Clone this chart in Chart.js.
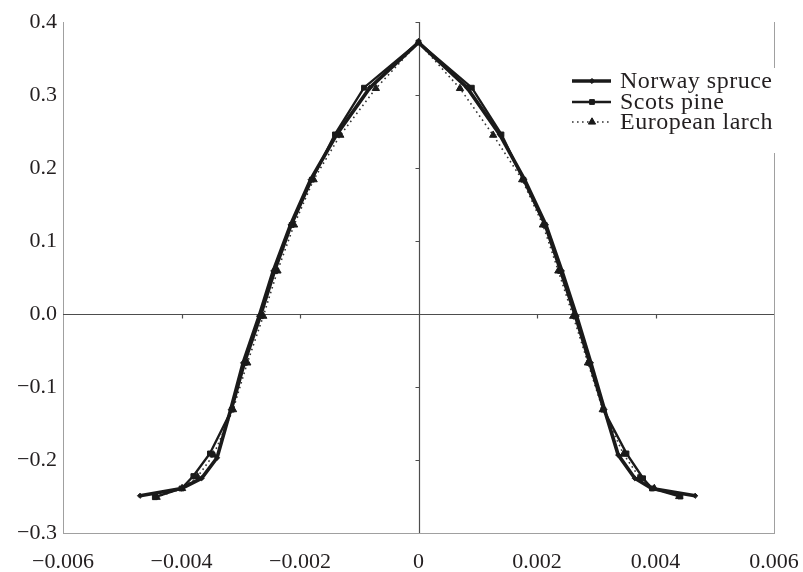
<!DOCTYPE html>
<html>
<head>
<meta charset="utf-8">
<style>
  html, body { margin: 0; padding: 0; background: #ffffff; }
  #wrap { width: 803px; height: 572px; }
</style>
<script src="https://cdn.jsdelivr.net/npm/chart.js@4/dist/chart.umd.min.js"></script>
</head>
<body>
<div id="wrap"><canvas id="c" width="803" height="572"></canvas></div>
<script>
// Profiles, left branch from the bottom up to the apex, then the right branch down.
const xSpruce = [-0.00470, -0.00400, -0.00366, -0.00340, -0.00317, -0.00296, -0.00269, -0.00245, -0.00216, -0.00182, -0.00138, -0.00082, 0,
                  0.00082, 0.00137, 0.00179, 0.00215, 0.00242, 0.00267, 0.00291, 0.00314, 0.00337, 0.00365, 0.00394, 0.00467];
const ySpruce = [-0.249, -0.239, -0.225, -0.197, -0.131, -0.067, -0.003, 0.059, 0.122, 0.184, 0.246, 0.310, 0.372,
                  0.310, 0.246, 0.184, 0.122, 0.059, -0.003, -0.067, -0.131, -0.193, -0.225, -0.239, -0.249];

const xPine = [-0.00445, -0.00400, -0.00380, -0.00352, -0.00315, -0.00293, -0.00266, -0.00242, -0.00214, -0.00180, -0.00141, -0.00092, 0,
                0.00090, 0.00140, 0.00177, 0.00213, 0.00239, 0.00264, 0.00288, 0.00312, 0.00351, 0.00379, 0.00394, 0.00442];
const yPine = [-0.251, -0.239, -0.222, -0.191, -0.131, -0.067, -0.003, 0.059, 0.122, 0.184, 0.246, 0.310, 0.372,
                0.310, 0.246, 0.184, 0.122, 0.059, -0.003, -0.067, -0.131, -0.191, -0.225, -0.239, -0.250];

const xLarch = [-0.00442, -0.00399, -0.00373, -0.00346, -0.00313, -0.00289, -0.00262, -0.00238, -0.00210, -0.00177, -0.00132, -0.00072, 0,
                 0.00070, 0.00126, 0.00175, 0.00210, 0.00236, 0.00261, 0.00286, 0.00311, 0.00346, 0.00373, 0.00398, 0.00440];
const yLarch = [-0.251, -0.239, -0.223, -0.193, -0.131, -0.067, -0.003, 0.059, 0.122, 0.184, 0.245, 0.309, 0.372,
                 0.309, 0.245, 0.184, 0.122, 0.059, -0.003, -0.067, -0.131, -0.192, -0.224, -0.239, -0.250];

const seriesNames = ['Norway spruce', 'Scots pine', 'European larch'];

const xTicks = [-0.006, -0.004, -0.002, 0, 0.002, 0.004, 0.006];
const yTicks = [-0.3, -0.2, -0.1, 0.0, 0.1, 0.2, 0.3, 0.4];

const FONT = "'Liberation Serif', 'Times New Roman', serif";
const INK = '#1a1a1a';

function pairs(xs, ys) { return xs.map((x, i) => ({ x: x, y: ys[i] })); }
function minus(s) { return s.replace('-', '\u2212'); }

// Zero axes through the middle of the plot, with short tick marks
const zeroAxes = {
  id: 'zeroAxes',
  beforeDatasetsDraw(chart) {
    const { ctx, chartArea: a, scales: { x, y } } = chart;
    const x0 = Math.round(x.getPixelForValue(0)) + 0.5;
    const y0 = Math.round(y.getPixelForValue(0)) + 0.5;
    ctx.save();
    ctx.strokeStyle = '#4d4d4d';
    ctx.lineWidth = 1.2;
    ctx.beginPath();
    ctx.moveTo(a.left, y0); ctx.lineTo(a.right, y0);
    ctx.moveTo(x0, a.top); ctx.lineTo(x0, a.bottom);
    xTicks.forEach(v => {
      if (v === 0 || v === xTicks[0] || v === xTicks[xTicks.length - 1]) return;
      const px = Math.round(x.getPixelForValue(v)) + 0.5;
      ctx.moveTo(px, y0); ctx.lineTo(px, y0 + 4);
    });
    yTicks.forEach(v => {
      if (v === 0 || v === yTicks[0]) return;
      const py = Math.round(y.getPixelForValue(v)) + 0.5;
      ctx.moveTo(x0, py); ctx.lineTo(x0 - 4, py);
    });
    ctx.stroke();
    // right side of the frame
    ctx.strokeStyle = '#a0a0a0';
    ctx.lineWidth = 1;
    ctx.beginPath();
    ctx.moveTo(Math.round(a.right) + 0.5, a.top);
    ctx.lineTo(Math.round(a.right) + 0.5, a.bottom);
    ctx.stroke();
    ctx.restore();
  }
};

// Legend box in the upper right corner
const cornerLegend = {
  id: 'cornerLegend',
  afterDraw(chart) {
    const ctx = chart.ctx;
    ctx.save();
    ctx.fillStyle = '#ffffff';
    ctx.fillRect(562, 68, 241, 85);
    const rows = [81, 102, 122];
    chart.data.datasets.forEach((ds, i) => {
      const yy = rows[i];
      ctx.strokeStyle = ds.borderColor;
      ctx.lineWidth = ds.borderWidth;
      ctx.setLineDash(ds.borderDash || []);
      ctx.beginPath();
      ctx.moveTo(572, yy); ctx.lineTo(611, yy);
      ctx.stroke();
      ctx.setLineDash([]);
      ctx.fillStyle = ds.pointBackgroundColor;
      ctx.strokeStyle = ds.pointBorderColor;
      ctx.lineWidth = 1;
      Chart.helpers.drawPoint(ctx, {
        pointStyle: ds.pointStyle, radius: ds.pointRadius, rotation: 0,
        borderWidth: 1
      }, 592, yy);
      ctx.fillStyle = '#231f20';
      ctx.font = '24px ' + FONT;
      if ('letterSpacing' in ctx) ctx.letterSpacing = '0.5px';
      ctx.textBaseline = 'alphabetic';
      ctx.textAlign = 'left';
      ctx.fillText(seriesNames[i], 620, yy + 7);
    });
    ctx.restore();
  }
};

const ctx = document.getElementById('c').getContext('2d');
new Chart(ctx, {
  type: 'scatter',
  data: {
    datasets: [
      {
        label: seriesNames[0],
        data: pairs(xSpruce, ySpruce),
        showLine: true,
        borderColor: INK, backgroundColor: INK,
        borderWidth: 3.6,
        pointStyle: 'rectRot', pointRadius: 2.6,
        pointBackgroundColor: INK, pointBorderColor: INK, pointBorderWidth: 1
      },
      {
        label: seriesNames[1],
        data: pairs(xPine, yPine),
        showLine: true,
        borderColor: INK, backgroundColor: INK,
        borderWidth: 2.4,
        pointStyle: 'rect', pointRadius: 3.4,
        pointBackgroundColor: INK, pointBorderColor: INK, pointBorderWidth: 1
      },
      {
        label: seriesNames[2],
        data: pairs(xLarch, yLarch),
        showLine: true,
        borderColor: '#333333', backgroundColor: INK,
        borderWidth: 1.6, borderDash: [1.6, 3.4],
        pointStyle: 'triangle', pointRadius: 4.2,
        pointBackgroundColor: INK, pointBorderColor: INK, pointBorderWidth: 1
      }
    ]
  },
  options: {
    responsive: false,
    animation: false,
    devicePixelRatio: 1,
    layout: { padding: { top: 22, right: 29, left: 0, bottom: 0 } },
    plugins: { legend: { display: false }, tooltip: { enabled: false } },
    scales: {
      x: {
        type: 'linear', min: -0.006, max: 0.006,
        afterFit(s) { s.height = 39; s.paddingLeft = 0; s.paddingRight = 0; },
        afterBuildTicks(s) { s.ticks = xTicks.map(v => ({ value: v })); },
        grid: { display: false, drawTicks: false },
        border: { display: true, color: '#a0a0a0', width: 1 },
        ticks: {
          padding: 16, color: '#231f20', maxRotation: 0, autoSkip: false,
          font: { family: FONT, size: 22 },
          callback(v) { return Math.abs(v) < 1e-12 ? '0' : minus(v.toFixed(3)); }
        }
      },
      y: {
        type: 'linear', min: -0.3, max: 0.4,
        afterFit(s) { s.width = 63; s.paddingTop = 0; s.paddingBottom = 0; },
        afterBuildTicks(s) { s.ticks = yTicks.map(v => ({ value: v })); },
        grid: { display: false, drawTicks: false },
        border: { display: true, color: '#a0a0a0', width: 1 },
        ticks: {
          padding: 6, color: '#231f20', autoSkip: false,
          font: { family: FONT, size: 22 },
          callback(v) { return Math.abs(v) < 1e-12 ? '0.0' : minus(v.toFixed(1)); }
        }
      }
    }
  },
  plugins: [zeroAxes, cornerLegend]
});
</script>
</body>
</html>
